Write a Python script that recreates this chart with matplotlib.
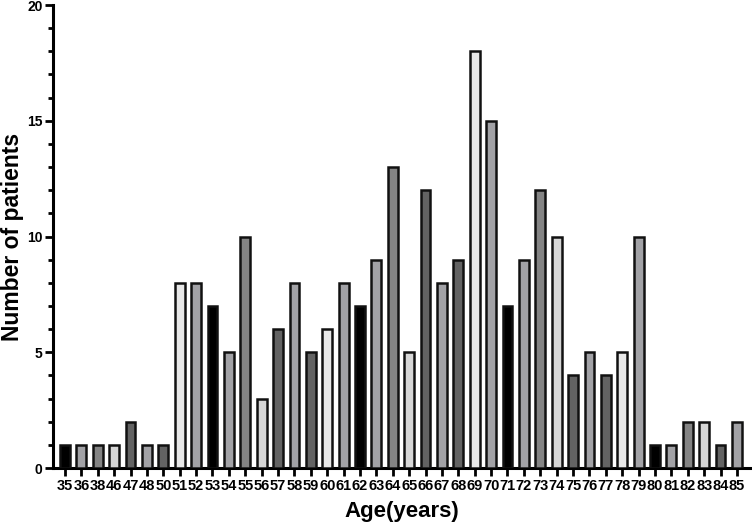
import numpy as np
import matplotlib
matplotlib.use("Agg")
import matplotlib.pyplot as plt
from matplotlib.ticker import MultipleLocator

plt.rcParams['font.family'] = ['Liberation Sans', 'DejaVu Sans']

# data
ages = ['35', '36', '38', '46', '47', '48', '50', '51', '52', '53', '54', '55', '56', '57',
        '58', '59', '60', '61', '62', '63', '64', '65', '66', '67', '68', '69', '70', '71',
        '72', '73', '74', '75', '76', '77', '78', '79', '80', '81', '82', '83', '84', '85']
patients = [1, 1, 1, 1, 2, 1, 1, 8, 8, 7, 5, 10, 3, 6,
            8, 5, 6, 8, 7, 9, 13, 5, 12, 8, 9, 18, 15, 7,
            9, 12, 10, 4, 5, 4, 5, 10, 1, 1, 2, 2, 1, 2]

# grey shades repeat every 9 bars
shades = ['#000000', '#a2a2a6', '#848484', '#d6d6d6', '#636363',
          '#a2a2a6', '#636363', '#e8e8e8', '#a2a2a6']
colors = [shades[i % len(shades)] for i in range(len(ages))]

fig = plt.figure(figsize=(7.52, 5.29), dpi=100)
ax = fig.add_axes([0.0705, 0.1153, 0.928, 0.8752])

x = np.arange(len(ages))
ax.bar(x, patients, width=0.6, color=colors, edgecolor='#111111', linewidth=1.8, zorder=3)

ax.set_xlim(-0.73, 41.85)
ax.set_ylim(0, 20)
ax.set_xticks(x)
ax.set_xticklabels(ages, fontsize=10.5, fontweight='bold')
ax.yaxis.set_major_locator(MultipleLocator(5))
ax.yaxis.set_minor_locator(MultipleLocator(1))
for lab in ax.get_yticklabels():
    lab.set_fontweight('bold')
    lab.set_fontsize(10)

ax.spines['top'].set_visible(False)
ax.spines['right'].set_visible(False)
ax.spines['left'].set_linewidth(2.2)
ax.spines['bottom'].set_linewidth(2.2)
ax.tick_params(axis='x', length=6, width=2, pad=2)
ax.tick_params(axis='y', which='major', length=6, width=2, pad=1.5)
ax.tick_params(axis='y', which='minor', length=3.5, width=2)

ax.set_xlabel('Age(years)', fontsize=16, fontweight='bold', labelpad=6)
ax.set_ylabel('Number of patients', fontsize=16.5, fontweight='bold', labelpad=2)

fig.savefig('out.png', dpi=100)
